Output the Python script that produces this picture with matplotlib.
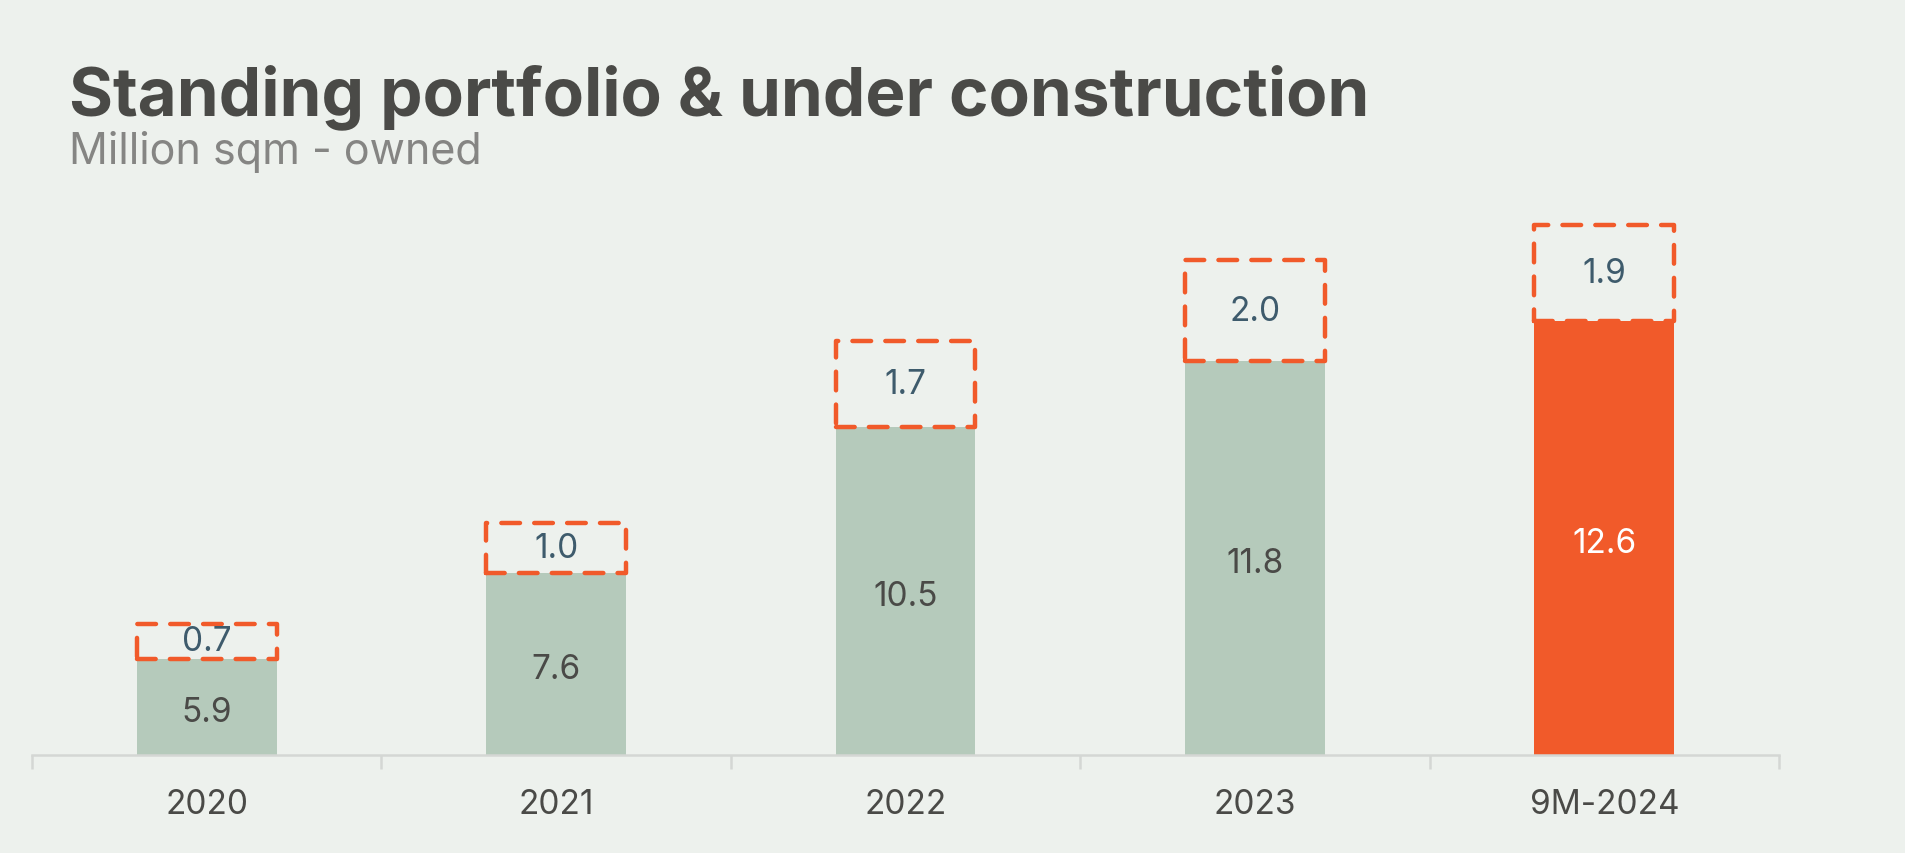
import matplotlib
matplotlib.use("Agg")
import matplotlib.pyplot as plt
import matplotlib.transforms as mtransforms

categories = ["2020", "2021", "2022", "2023", "9M-2024"]
standing = [5.9, 7.6, 10.5, 11.8, 12.6]
under_construction = [0.7, 1.0, 1.7, 2.0, 1.9]
title = "Standing portfolio & under construction"
subtitle = "Million sqm - owned"

BG = "#EDF1ED"
GREEN = "#B5CABB"
ORANGE = "#F15A2A"
DARK = "#4A4A47"
BLUE = "#3E5B6C"
GREY = "#858583"

plt.rcParams['font.family'] = ['Inter', 'DejaVu Sans']

fig = plt.figure(figsize=(19.05, 8.54), dpi=100, facecolor=BG)
ax = fig.add_axes([32/1905, 98/854, 1747/1905, 555.5/854])
ax.set_facecolor(BG)

x = list(range(len(categories)))
colors = [GREEN] * (len(categories) - 1) + [ORANGE]
label_colors = [DARK] * (len(categories) - 1) + ["white"]
w = 0.4
bars = ax.bar(x, standing, width=w, color=colors, zorder=2, bottom=0)
boxes = ax.bar(x, under_construction, width=w, bottom=standing, fill=False,
               edgecolor=ORANGE, linewidth=3.2, linestyle=(0, (4.2, 3.2)), zorder=3)
for b in boxes:
    b.set_joinstyle('round')
    b.set_capstyle('round')

ax.set_ylim(4.0, 15.0)
ax.set_xlim(-0.5, len(categories) - 0.5)

down = mtransforms.offset_copy(ax.transData, fig=fig, x=0, y=-5, units='dots')
for i, (s, u) in enumerate(zip(standing, under_construction)):
    ax.text(i, (4.0 + s) / 2, f"{s:.1f}", ha="center", va="center",
            fontsize=24, color=label_colors[i], zorder=4, transform=down)
    ax.text(i, s + u / 2, f"{u:.1f}", ha="center", va="center",
            fontsize=24, color=BLUE, zorder=4)

for sp in ["top", "left", "right"]:
    ax.spines[sp].set_visible(False)
ax.spines["bottom"].set_color("#D4D7D4")
ax.spines["bottom"].set_linewidth(1.8)
ax.set_yticks([])
ax.set_xticks([i - 0.5 for i in range(len(categories) + 1)], minor=False)
ax.set_xticklabels([])
ax.tick_params(axis="x", which="major", length=10, width=1.8, color="#D4D7D4")
ax.set_xticks(x, minor=True)
ax.set_xticklabels(categories, minor=True, fontsize=24, color=DARK)
ax.tick_params(axis="x", which="minor", length=0, pad=24)

fig.text(69/1905, 1 - 115/854, title, fontsize=48.5, fontweight="bold", color=DARK,
         ha="left", va="baseline")
fig.text(69/1905, 1 - 164/854, subtitle, fontsize=31, color=GREY,
         ha="left", va="baseline")

fig.savefig("out.png", dpi=100, facecolor=BG)
